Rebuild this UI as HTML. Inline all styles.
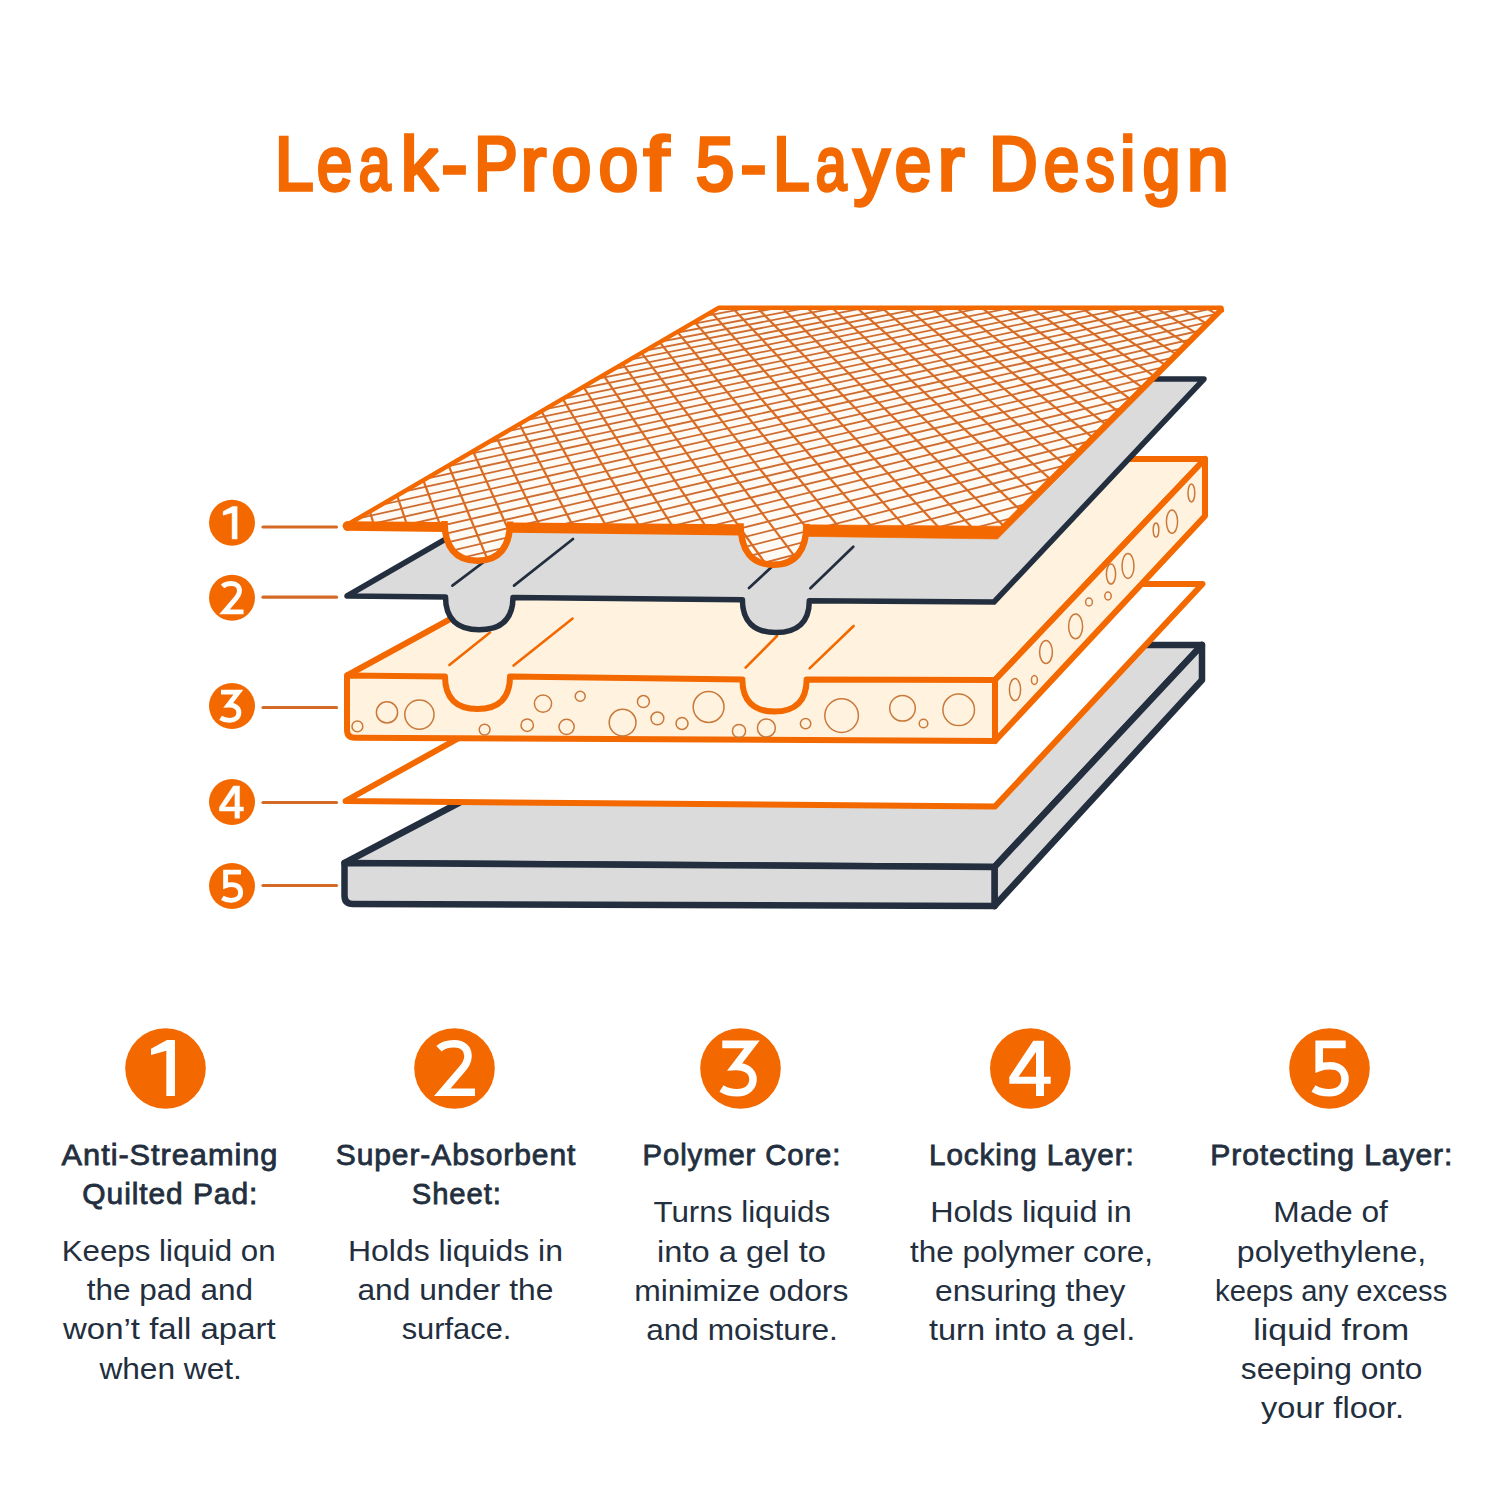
<!DOCTYPE html>
<html><head><meta charset="utf-8">
<style>
html,body{margin:0;padding:0;background:#fff;}
body{width:1500px;height:1500px;position:relative;overflow:hidden;}
svg{position:absolute;left:0;top:0;font-family:"Liberation Sans",sans-serif;}
</style></head><body>
<svg width="1500" height="1500" viewBox="0 0 1500 1500">
<g stroke="#232F3E" stroke-width="6.5" stroke-linejoin="round" fill="#DBDBDC">
<polygon points="344.5,863 759,645 1202,645 994.5,867"/>
<polygon points="994.5,867 1202,645 1202,680 994.5,906"/>
<path d="M344.5,863 L994.5,867 L994.5,906 L353,904 Q344.5,904 344.5,895.5 Z"/>
</g>
<polygon points="345.5,801 736,584 1202.5,584 995,806.5" fill="#FFFFFF" stroke="#F36900" stroke-width="6" stroke-linejoin="round"/>
<g stroke="#F36900" stroke-width="6" stroke-linejoin="round" fill="#FFF3E0">
<polygon points="347,675.5 743,459 1205,459 995,680" stroke="none"/>
<polyline points="347,675.5 743,459 1205,459 995,680" fill="none"/>
<polygon points="995,680 1205,459 1205,516 995,741"/>
<path d="M445,673 L445,676.5 C445,698 456.1,709 477.5,709 C498.9,709 510,698 510,676.5  L510,673 Z M742.4,676 L742.4,679.5 C742.4,701.3 753.3,712.6 774.5,712.6 C795.7,712.6 806.6,701.3 806.6,679.5  L806.6,676 Z" fill="#FFF3E0" stroke="none"/>
<path d="M347,675.5 L445,676.5 C445,698 456.1,709 477.5,709 C498.9,709 510,698 510,676.5 L742.4,679.5 C742.4,700.7 753.3,711.6 774.5,711.6 C795.7,711.6 806.6,700.7 806.6,679.5 L995,680 L995,741 L355,737.8 Q347,737.8 347,729.8 Z"/>
</g>
<g stroke="#F36900" stroke-width="2.6" stroke-linecap="round">
<line x1="449.4" y1="665" x2="490" y2="632.5"/>
<line x1="513.6" y1="665.6" x2="572.6" y2="618.6"/>
<line x1="745.6" y1="667.6" x2="777" y2="636"/>
<line x1="809.6" y1="668.4" x2="853.6" y2="626"/>
</g>
<g stroke="#C9793A" stroke-width="1.5" fill="none">
<circle cx="357.4" cy="726.4" r="5.4"/>
<circle cx="387" cy="712.4" r="10.6"/>
<circle cx="419.4" cy="714.6" r="14.6"/>
<circle cx="484.6" cy="729.6" r="5.4"/>
<circle cx="527.2" cy="725.2" r="6.2"/>
<circle cx="543" cy="703.6" r="8.6"/>
<circle cx="566.6" cy="726.8" r="7.6"/>
<circle cx="580.2" cy="696.2" r="5"/>
<circle cx="622.6" cy="722.6" r="13.4"/>
<circle cx="643.4" cy="701.6" r="6"/>
<circle cx="657.4" cy="718.4" r="6.4"/>
<circle cx="682" cy="723.4" r="6"/>
<circle cx="708.6" cy="707" r="15.4"/>
<circle cx="739" cy="731" r="6.6"/>
<circle cx="766.4" cy="728" r="9"/>
<circle cx="805.6" cy="723.6" r="5.2"/>
<circle cx="841.6" cy="715.6" r="16.8"/>
<circle cx="902.5" cy="708.3" r="12.8"/>
<circle cx="923.5" cy="723.5" r="4.3"/>
<circle cx="958.7" cy="709.8" r="15.8"/>
<ellipse cx="1191.4" cy="493" rx="3.4" ry="9"/>
<ellipse cx="1172" cy="521.6" rx="5.6" ry="11.6"/>
<ellipse cx="1156" cy="530" rx="2.8" ry="7"/>
<ellipse cx="1128" cy="566" rx="6" ry="12.4"/>
<ellipse cx="1111" cy="574" rx="4.6" ry="10"/>
<ellipse cx="1108" cy="596" rx="3.2" ry="4"/>
<ellipse cx="1089" cy="602" rx="3.4" ry="4"/>
<ellipse cx="1075.6" cy="626.4" rx="7" ry="12.4"/>
<ellipse cx="1046" cy="652" rx="6.4" ry="11.6"/>
<ellipse cx="1034.4" cy="680" rx="3" ry="4.4"/>
<ellipse cx="1015" cy="689.6" rx="5.6" ry="11"/>
</g>
<path d="M347,596 L723,379 L1204,379 L994,602 L809.3,600.7 C809.3,621.8 797.9,632.6 775.8,632.6 C753.8,632.6 742.4,621.4 742.4,599.8 L513,597.5 C513,618.8 501.5,629.8 479.2,629.8 C457,629.8 445.5,618.6 445.5,597 Z" fill="#DBDBDC" stroke="#232F3E" stroke-width="5.5" stroke-linejoin="round"/>
<g stroke="#232F3E" stroke-width="2.7" stroke-linecap="round">
<line x1="452.4" y1="585.6" x2="497" y2="552"/>
<line x1="514" y1="585.6" x2="573" y2="539"/>
<line x1="749" y1="588" x2="790" y2="550"/>
<line x1="810.4" y1="588.3" x2="853.3" y2="546.7"/>
</g>
<defs><clipPath id="c1">
<path d="M344,526 L718.5,307.5 L1220,307.5 L997,538 L344,526 Z"/>
<path d="M444.5,521.1 C444.5,547.3 455.7,560.8 477.3,560.8 C498.9,560.8 510.1,547.5 510.1,521.6  Z"/>
<path d="M740.5,523.3 C740.5,550.7 751.7,564.8 773.5,564.8 C795.3,564.8 806.5,550.9 806.5,523.8  Z"/>
</clipPath></defs>
<path d="M344,526 L718.5,307.5 L1220,307.5 L997,538 L344,526 Z" fill="#FFFAF3"/>
<path d="M444.5,521.1 C444.5,547.3 455.7,560.8 477.3,560.8 C498.9,560.8 510.1,547.5 510.1,521.6  Z" fill="#FFFAF3"/>
<path d="M740.5,523.3 C740.5,550.7 751.7,564.8 773.5,564.8 C795.3,564.8 806.5,550.9 806.5,523.8  Z" fill="#FFFAF3"/>
<g clip-path="url(#c1)">
<line x1="338" y1="514.1" x2="353.3" y2="572" stroke="#DE6A1E" stroke-width="2.2"/>
<line x1="338" y1="405.6" x2="388.1" y2="572" stroke="#DE6A1E" stroke-width="2.2"/>
<line x1="338" y1="321.2" x2="423" y2="572" stroke="#DE6A1E" stroke-width="2.2"/>
<line x1="356.2" y1="302" x2="457.8" y2="572" stroke="#DE6A1E" stroke-width="2.2"/>
<line x1="380.9" y1="302" x2="492.7" y2="572" stroke="#DE6A1E" stroke-width="2.2"/>
<line x1="405.6" y1="302" x2="527.5" y2="572" stroke="#DE6A1E" stroke-width="2.2"/>
<line x1="430.3" y1="302" x2="562.4" y2="572" stroke="#DE6A1E" stroke-width="2.2"/>
<line x1="455.1" y1="302" x2="597.3" y2="572" stroke="#DE6A1E" stroke-width="2.2"/>
<line x1="479.8" y1="302" x2="632.1" y2="572" stroke="#DE6A1E" stroke-width="2.2"/>
<line x1="504.5" y1="302" x2="667" y2="572" stroke="#DE6A1E" stroke-width="2.2"/>
<line x1="529.2" y1="302" x2="701.8" y2="572" stroke="#DE6A1E" stroke-width="2.2"/>
<line x1="553.9" y1="302" x2="736.7" y2="572" stroke="#DE6A1E" stroke-width="2.2"/>
<line x1="578.6" y1="302" x2="771.5" y2="572" stroke="#DE6A1E" stroke-width="2.2"/>
<line x1="603.3" y1="302" x2="806.4" y2="572" stroke="#DE6A1E" stroke-width="2.2"/>
<line x1="628" y1="302" x2="841.3" y2="572" stroke="#DE6A1E" stroke-width="2.2"/>
<line x1="652.7" y1="302" x2="876.1" y2="572" stroke="#DE6A1E" stroke-width="2.2"/>
<line x1="677.4" y1="302" x2="911" y2="572" stroke="#DE6A1E" stroke-width="2.2"/>
<line x1="702.1" y1="302" x2="945.8" y2="572" stroke="#DE6A1E" stroke-width="2.2"/>
<line x1="726.9" y1="302" x2="980.7" y2="572" stroke="#DE6A1E" stroke-width="2.2"/>
<line x1="751.6" y1="302" x2="1015.6" y2="572" stroke="#DE6A1E" stroke-width="2.2"/>
<line x1="776.3" y1="302" x2="1050.4" y2="572" stroke="#DE6A1E" stroke-width="2.2"/>
<line x1="801" y1="302" x2="1085.3" y2="572" stroke="#DE6A1E" stroke-width="2.2"/>
<line x1="825.7" y1="302" x2="1120.1" y2="572" stroke="#DE6A1E" stroke-width="2.2"/>
<line x1="850.4" y1="302" x2="1155" y2="572" stroke="#DE6A1E" stroke-width="2.2"/>
<line x1="875.1" y1="302" x2="1189.8" y2="572" stroke="#DE6A1E" stroke-width="2.2"/>
<line x1="899.8" y1="302" x2="1224.7" y2="572" stroke="#DE6A1E" stroke-width="2.2"/>
<line x1="924.5" y1="302" x2="1228" y2="546.6" stroke="#DE6A1E" stroke-width="2.2"/>
<line x1="949.2" y1="302" x2="1228" y2="520" stroke="#DE6A1E" stroke-width="2.2"/>
<line x1="974" y1="302" x2="1228" y2="495" stroke="#DE6A1E" stroke-width="2.2"/>
<line x1="998.7" y1="302" x2="1228" y2="471.4" stroke="#DE6A1E" stroke-width="2.2"/>
<line x1="1023.4" y1="302" x2="1228" y2="449.1" stroke="#DE6A1E" stroke-width="2.2"/>
<line x1="1048.1" y1="302" x2="1228" y2="427.9" stroke="#DE6A1E" stroke-width="2.2"/>
<line x1="1072.8" y1="302" x2="1228" y2="407.8" stroke="#DE6A1E" stroke-width="2.2"/>
<line x1="1097.5" y1="302" x2="1228" y2="388.8" stroke="#DE6A1E" stroke-width="2.2"/>
<line x1="1122.2" y1="302" x2="1228" y2="370.6" stroke="#DE6A1E" stroke-width="2.2"/>
<line x1="1146.9" y1="302" x2="1228" y2="353.3" stroke="#DE6A1E" stroke-width="2.2"/>
<line x1="1171.6" y1="302" x2="1228" y2="336.9" stroke="#DE6A1E" stroke-width="2.2"/>
<line x1="1196.3" y1="302" x2="1228" y2="321.1" stroke="#DE6A1E" stroke-width="2.2"/>
<line x1="1221" y1="302" x2="1228" y2="306.1" stroke="#DE6A1E" stroke-width="2.2"/>
<line x1="338" y1="303.3" x2="345.8" y2="302" stroke="#CF6C30" stroke-width="1.8"/>
<line x1="338" y1="308.2" x2="374.7" y2="302" stroke="#CF6C30" stroke-width="1.8"/>
<line x1="338" y1="313.1" x2="403.6" y2="302" stroke="#CF6C30" stroke-width="1.8"/>
<line x1="338" y1="318.2" x2="432.5" y2="302" stroke="#CF6C30" stroke-width="1.8"/>
<line x1="338" y1="323.3" x2="461.4" y2="302" stroke="#CF6C30" stroke-width="1.8"/>
<line x1="338" y1="328.5" x2="490.3" y2="302" stroke="#CF6C30" stroke-width="1.8"/>
<line x1="338" y1="333.7" x2="519.2" y2="302" stroke="#CF6C30" stroke-width="1.8"/>
<line x1="338" y1="339.1" x2="548.1" y2="302" stroke="#CF6C30" stroke-width="1.8"/>
<line x1="338" y1="344.5" x2="577.1" y2="302" stroke="#CF6C30" stroke-width="1.8"/>
<line x1="338" y1="350" x2="606" y2="302" stroke="#CF6C30" stroke-width="1.8"/>
<line x1="338" y1="355.7" x2="634.9" y2="302" stroke="#CF6C30" stroke-width="1.8"/>
<line x1="338" y1="361.3" x2="663.8" y2="302" stroke="#CF6C30" stroke-width="1.8"/>
<line x1="338" y1="367.1" x2="692.7" y2="302" stroke="#CF6C30" stroke-width="1.8"/>
<line x1="338" y1="373" x2="721.6" y2="302" stroke="#CF6C30" stroke-width="1.8"/>
<line x1="338" y1="379" x2="750.5" y2="302" stroke="#CF6C30" stroke-width="1.8"/>
<line x1="338" y1="385.1" x2="779.4" y2="302" stroke="#CF6C30" stroke-width="1.8"/>
<line x1="338" y1="391.2" x2="808.4" y2="302" stroke="#CF6C30" stroke-width="1.8"/>
<line x1="338" y1="397.5" x2="837.3" y2="302" stroke="#CF6C30" stroke-width="1.8"/>
<line x1="338" y1="403.9" x2="866.2" y2="302" stroke="#CF6C30" stroke-width="1.8"/>
<line x1="338" y1="410.4" x2="895.1" y2="302" stroke="#CF6C30" stroke-width="1.8"/>
<line x1="338" y1="417" x2="924" y2="302" stroke="#CF6C30" stroke-width="1.8"/>
<line x1="338" y1="423.7" x2="952.9" y2="302" stroke="#CF6C30" stroke-width="1.8"/>
<line x1="338" y1="430.5" x2="981.8" y2="302" stroke="#CF6C30" stroke-width="1.8"/>
<line x1="338" y1="437.5" x2="1010.8" y2="302" stroke="#CF6C30" stroke-width="1.8"/>
<line x1="338" y1="444.6" x2="1039.7" y2="302" stroke="#CF6C30" stroke-width="1.8"/>
<line x1="338" y1="451.8" x2="1068.6" y2="302" stroke="#CF6C30" stroke-width="1.8"/>
<line x1="338" y1="459.1" x2="1097.5" y2="302" stroke="#CF6C30" stroke-width="1.8"/>
<line x1="338" y1="466.6" x2="1126.4" y2="302" stroke="#CF6C30" stroke-width="1.8"/>
<line x1="338" y1="474.2" x2="1155.3" y2="302" stroke="#CF6C30" stroke-width="1.8"/>
<line x1="338" y1="481.9" x2="1184.2" y2="302" stroke="#CF6C30" stroke-width="1.8"/>
<line x1="338" y1="489.8" x2="1213.1" y2="302" stroke="#CF6C30" stroke-width="1.8"/>
<line x1="338" y1="497.8" x2="1228" y2="305" stroke="#CF6C30" stroke-width="1.8"/>
<line x1="338" y1="506" x2="1228" y2="311.4" stroke="#CF6C30" stroke-width="1.8"/>
<line x1="338" y1="514.4" x2="1228" y2="317.9" stroke="#CF6C30" stroke-width="1.8"/>
<line x1="338" y1="522.9" x2="1228" y2="324.5" stroke="#CF6C30" stroke-width="1.8"/>
<line x1="338" y1="531.6" x2="1228" y2="331.2" stroke="#CF6C30" stroke-width="1.8"/>
<line x1="338" y1="540.4" x2="1228" y2="338.1" stroke="#CF6C30" stroke-width="1.8"/>
<line x1="338" y1="549.5" x2="1228" y2="345.1" stroke="#CF6C30" stroke-width="1.8"/>
<line x1="338" y1="558.7" x2="1228" y2="352.2" stroke="#CF6C30" stroke-width="1.8"/>
<line x1="338" y1="568.1" x2="1228" y2="359.5" stroke="#CF6C30" stroke-width="1.8"/>
<line x1="362" y1="572" x2="1228" y2="366.9" stroke="#CF6C30" stroke-width="1.8"/>
<line x1="402.7" y1="572" x2="1228" y2="374.5" stroke="#CF6C30" stroke-width="1.8"/>
<line x1="443.4" y1="572" x2="1228" y2="382.3" stroke="#CF6C30" stroke-width="1.8"/>
<line x1="484.1" y1="572" x2="1228" y2="390.2" stroke="#CF6C30" stroke-width="1.8"/>
<line x1="524.9" y1="572" x2="1228" y2="398.3" stroke="#CF6C30" stroke-width="1.8"/>
<line x1="565.6" y1="572" x2="1228" y2="406.6" stroke="#CF6C30" stroke-width="1.8"/>
<line x1="606.3" y1="572" x2="1228" y2="415" stroke="#CF6C30" stroke-width="1.8"/>
<line x1="647" y1="572" x2="1228" y2="423.7" stroke="#CF6C30" stroke-width="1.8"/>
<line x1="687.7" y1="572" x2="1228" y2="432.5" stroke="#CF6C30" stroke-width="1.8"/>
<line x1="728.4" y1="572" x2="1228" y2="441.6" stroke="#CF6C30" stroke-width="1.8"/>
<line x1="769.1" y1="572" x2="1228" y2="450.8" stroke="#CF6C30" stroke-width="1.8"/>
<line x1="809.8" y1="572" x2="1228" y2="460.3" stroke="#CF6C30" stroke-width="1.8"/>
<line x1="850.5" y1="572" x2="1228" y2="469.9" stroke="#CF6C30" stroke-width="1.8"/>
<line x1="891.2" y1="572" x2="1228" y2="479.9" stroke="#CF6C30" stroke-width="1.8"/>
<line x1="931.9" y1="572" x2="1228" y2="490" stroke="#CF6C30" stroke-width="1.8"/>
<line x1="972.6" y1="572" x2="1228" y2="500.4" stroke="#CF6C30" stroke-width="1.8"/>
<line x1="1013.3" y1="572" x2="1228" y2="511.1" stroke="#CF6C30" stroke-width="1.8"/>
<line x1="1054" y1="572" x2="1228" y2="522" stroke="#CF6C30" stroke-width="1.8"/>
<line x1="1094.7" y1="572" x2="1228" y2="533.2" stroke="#CF6C30" stroke-width="1.8"/>
<line x1="1135.4" y1="572" x2="1228" y2="544.7" stroke="#CF6C30" stroke-width="1.8"/>
<line x1="1176.1" y1="572" x2="1228" y2="556.5" stroke="#CF6C30" stroke-width="1.8"/>
<line x1="1216.8" y1="572" x2="1228" y2="568.6" stroke="#CF6C30" stroke-width="1.8"/>
</g>
<polygon points="346,521.3 444.5,522.1 444.5,531.9 346,530.7" fill="#F36900"/>
<polygon points="510.1,522.6 740.5,524.3 740.5,535.6 510.1,532.8" fill="#F36900"/>
<circle cx="347.5" cy="526" r="4.8" fill="#F36900"/>
<path d="M444.5,521.1 C444.5,547.3 455.7,560.8 477.3,560.8 C498.9,560.8 510.1,547.5 510.1,521.6 " fill="none" stroke="#F36900" stroke-width="6.5"/>
<path d="M740.5,523.3 C740.5,550.7 751.7,564.8 773.5,564.8 C795.3,564.8 806.5,550.9 806.5,523.8 " fill="none" stroke="#F36900" stroke-width="6.5"/>
<polygon points="806.5,524.8 1000.5,526.2 1218,309.2 1222.5,310 1221.2,313.5 997.5,539 806.5,536.4" fill="#F36900" stroke="#F36900" stroke-width="0.6" stroke-linejoin="round"/>
<polyline points="345,526 718.5,307.8 1221.5,307.8 1222,310.5" fill="none" stroke="#F36900" stroke-width="4.4" stroke-linejoin="round" stroke-linecap="round"/>
<line x1="263" y1="527" x2="336.5" y2="527" stroke="#D56A26" stroke-width="3.2" stroke-linecap="round"/>
<circle cx="232" cy="522.8" r="23" fill="#F36900"/>
<path transform="translate(231.6,523.0) scale(0.582)" d="M-14.5,-19.8 L1.5,-28.5 L9.5,-28.5 L9.5,27.5 L0.83,27.5 L0.83,-17.8 L-14.5,-13.5 Z" fill="#fff" fill-rule="evenodd" stroke="#fff" stroke-width="0.8" stroke-linejoin="miter"/>
<line x1="263" y1="597.2" x2="336.5" y2="597.2" stroke="#D56A26" stroke-width="3.2" stroke-linecap="round"/>
<circle cx="232" cy="597.8" r="23" fill="#F36900"/>
<path transform="translate(231.6,598.0) scale(0.582)" d="M-15.5,-19.8 C-10.8,-24.5 -5.5,-24.8 -0.5,-24.8 C8.5,-24.8 13.5,-19.8 13.5,-12.5 C13.5,-5.8 9.8,-1.8 5.8,2.8 L-12.2,23.8 L20.5,23.8" fill="none" stroke="#fff" stroke-width="8.4" stroke-linejoin="miter" stroke-miterlimit="3"/>
<line x1="263" y1="707.5" x2="336.5" y2="707.5" stroke="#D56A26" stroke-width="3.2" stroke-linecap="round"/>
<circle cx="232" cy="706" r="23" fill="#F36900"/>
<path transform="translate(231.6,706.2) scale(0.582)" d="M-18.2,-24.1 L11.5,-24.1 L-5.5,-2 C5.5,-2.5 12.5,3 12.5,10.8 C12.5,19 6,24.3 -3.5,24.3 C-10,24.3 -15,22.5 -19,20" fill="none" stroke="#fff" stroke-width="8.4" stroke-linejoin="miter" stroke-miterlimit="3"/>
<line x1="263" y1="802.5" x2="336.5" y2="802.5" stroke="#D56A26" stroke-width="3.2" stroke-linecap="round"/>
<circle cx="232" cy="802" r="23" fill="#F36900"/>
<path transform="translate(231.6,802.2) scale(0.582)" d="M3,-27.8 L13.7,-27.8 L13.7,8.2 L20.4,8.2 L20.4,15.2 L13.7,15.2 L13.7,27.5 L5.7,27.5 L5.7,15.2 L-21,15.2 L-21,8.5 Z M5.7,-16.5 L5.7,8.2 L-11.8,8.2 Z" fill="#fff" fill-rule="evenodd" stroke="#fff" stroke-width="0.8" stroke-linejoin="miter"/>
<line x1="263" y1="885.5" x2="336.5" y2="885.5" stroke="#D56A26" stroke-width="3.2" stroke-linecap="round"/>
<circle cx="232" cy="886" r="23" fill="#F36900"/>
<path transform="translate(231.6,886.2) scale(0.582)" d="M16.2,-24.1 L-10.3,-24.1 L-10.3,-1 C-6.5,-2.5 -3,-2.7 0.5,-2.7 C10,-2.7 15.5,3 15.5,10.8 C15.5,19 9,24.3 -0.5,24.3 C-7,24.3 -12,22.5 -16,20" fill="none" stroke="#fff" stroke-width="8.4" stroke-linejoin="miter" stroke-miterlimit="3"/>
<text transform="matrix(0.9277 0 0 1 274.78 0)" x="0" y="190.3" font-size="75.41" fill="#F36900" stroke="#F36900" stroke-width="3.4" stroke-linejoin="miter" stroke-miterlimit="2">L</text>
<text transform="matrix(0.8483 0 0 1 316.69 0)" x="0" y="190.3" font-size="75.41" fill="#F36900" stroke="#F36900" stroke-width="3.4" stroke-linejoin="miter" stroke-miterlimit="2">e</text>
<text transform="matrix(0.7592 0 0 1 358.82 0)" x="0" y="190.3" font-size="75.41" fill="#F36900" stroke="#F36900" stroke-width="3.4" stroke-linejoin="miter" stroke-miterlimit="2">a</text>
<text transform="matrix(0.9959 0 0 1 400.71 0)" x="0" y="190.3" font-size="75.41" fill="#F36900" stroke="#F36900" stroke-width="3.4" stroke-linejoin="miter" stroke-miterlimit="2">k</text>
<text transform="matrix(1.0502 0 0 1 441.37 0)" x="0" y="190.3" font-size="75.41" fill="#F36900" stroke="#F36900" stroke-width="3.4" stroke-linejoin="miter" stroke-miterlimit="2">-</text>
<text transform="matrix(0.8706 0 0 1 474.04 0)" x="0" y="190.3" font-size="75.41" fill="#F36900" stroke="#F36900" stroke-width="3.4" stroke-linejoin="miter" stroke-miterlimit="2">P</text>
<text transform="matrix(1.0268 0 0 1 520.61 0)" x="0" y="190.3" font-size="75.41" fill="#F36900" stroke="#F36900" stroke-width="3.4" stroke-linejoin="miter" stroke-miterlimit="2">r</text>
<text transform="matrix(0.9512 0 0 1 551.53 0)" x="0" y="190.3" font-size="75.41" fill="#F36900" stroke="#F36900" stroke-width="3.4" stroke-linejoin="miter" stroke-miterlimit="2">o</text>
<text transform="matrix(0.9512 0 0 1 598.53 0)" x="0" y="190.3" font-size="75.41" fill="#F36900" stroke="#F36900" stroke-width="3.4" stroke-linejoin="miter" stroke-miterlimit="2">o</text>
<text transform="matrix(1.1966 0 0 1 643.84 0)" x="0" y="190.3" font-size="75.41" fill="#F36900" stroke="#F36900" stroke-width="3.4" stroke-linejoin="miter" stroke-miterlimit="2">f</text>
<text transform="matrix(0.9195 0 0 1 695.80 0)" x="0" y="190.3" font-size="75.41" fill="#F36900" stroke="#F36900" stroke-width="3.4" stroke-linejoin="miter" stroke-miterlimit="2">5</text>
<text transform="matrix(1.0502 0 0 1 740.37 0)" x="0" y="190.3" font-size="75.41" fill="#F36900" stroke="#F36900" stroke-width="3.4" stroke-linejoin="miter" stroke-miterlimit="2">-</text>
<text transform="matrix(0.8731 0 0 1 773.03 0)" x="0" y="190.3" font-size="75.41" fill="#F36900" stroke="#F36900" stroke-width="3.4" stroke-linejoin="miter" stroke-miterlimit="2">L</text>
<text transform="matrix(0.7355 0 0 1 815.86 0)" x="0" y="190.3" font-size="75.41" fill="#F36900" stroke="#F36900" stroke-width="3.4" stroke-linejoin="miter" stroke-miterlimit="2">a</text>
<text transform="matrix(0.9594 0 0 1 853.39 0)" x="0" y="190.3" font-size="75.41" fill="#F36900" stroke="#F36900" stroke-width="3.4" stroke-linejoin="miter" stroke-miterlimit="2">y</text>
<text transform="matrix(0.8740 0 0 1 894.65 0)" x="0" y="190.3" font-size="75.41" fill="#F36900" stroke="#F36900" stroke-width="3.4" stroke-linejoin="miter" stroke-miterlimit="2">e</text>
<text transform="matrix(1.0714 0 0 1 937.46 0)" x="0" y="190.3" font-size="75.41" fill="#F36900" stroke="#F36900" stroke-width="3.4" stroke-linejoin="miter" stroke-miterlimit="2">r</text>
<text transform="matrix(0.8930 0 0 1 988.94 0)" x="0" y="190.3" font-size="75.41" fill="#F36900" stroke="#F36900" stroke-width="3.4" stroke-linejoin="miter" stroke-miterlimit="2">D</text>
<text transform="matrix(0.8483 0 0 1 1043.69 0)" x="0" y="190.3" font-size="75.41" fill="#F36900" stroke="#F36900" stroke-width="3.4" stroke-linejoin="miter" stroke-miterlimit="2">e</text>
<text transform="matrix(0.7746 0 0 1 1085.57 0)" x="0" y="190.3" font-size="75.41" fill="#F36900" stroke="#F36900" stroke-width="3.4" stroke-linejoin="miter" stroke-miterlimit="2">s</text>
<text transform="matrix(0.9261 0 0 1 1119.94 0)" x="0" y="190.3" font-size="75.41" fill="#F36900" stroke="#F36900" stroke-width="3.4" stroke-linejoin="miter" stroke-miterlimit="2">i</text>
<text transform="matrix(0.9091 0 0 1 1142.59 0)" x="0" y="190.3" font-size="75.41" fill="#F36900" stroke="#F36900" stroke-width="3.4" stroke-linejoin="miter" stroke-miterlimit="2">g</text>
<text transform="matrix(1.0056 0 0 1 1186.68 0)" x="0" y="190.3" font-size="75.41" fill="#F36900" stroke="#F36900" stroke-width="3.4" stroke-linejoin="miter" stroke-miterlimit="2">n</text>
<circle cx="165.5" cy="1068.5" r="40.3" fill="#F36900"/>
<path transform="translate(165.5,1068.5) scale(1.0)" d="M-14.5,-19.8 L1.5,-28.5 L9.5,-28.5 L9.5,27.5 L0.83,27.5 L0.83,-17.8 L-14.5,-13.5 Z" fill="#fff" fill-rule="evenodd"/>
<text transform="matrix(1.0473 0 0 1 61.62 0)" x="0" y="1164.8" font-size="29.4" fill="#232F3E" stroke="#232F3E" stroke-width="0.8" stroke-linejoin="miter" stroke-miterlimit="2" letter-spacing="0.9">Anti-Streaming</text>
<text transform="matrix(1.0196 0 0 1 82.33 0)" x="0" y="1203.6" font-size="29.4" fill="#232F3E" stroke="#232F3E" stroke-width="0.8" stroke-linejoin="miter" stroke-miterlimit="2" letter-spacing="0.9">Quilted Pad:</text>
<text transform="matrix(1.0431 0 0 1 61.69 0)" x="0" y="1261.3" font-size="30" fill="#232F3E">Keeps liquid on</text>
<text transform="matrix(1.0500 0 0 1 86.67 0)" x="0" y="1300.4" font-size="30" fill="#232F3E">the pad and</text>
<text transform="matrix(1.0996 0 0 1 63.00 0)" x="0" y="1339.5" font-size="30" fill="#232F3E">won’t fall apart</text>
<text transform="matrix(1.0556 0 0 1 99.40 0)" x="0" y="1378.6" font-size="30" fill="#232F3E">when wet.</text>
<circle cx="454.5" cy="1068.5" r="40.3" fill="#F36900"/>
<path transform="translate(454.5,1068.5) scale(1.0)" d="M-15.5,-19.8 C-10.8,-24.5 -5.5,-24.8 -0.5,-24.8 C8.5,-24.8 13.5,-19.8 13.5,-12.5 C13.5,-5.8 9.8,-1.8 5.8,2.8 L-12.2,23.8 L20.5,23.8" fill="none" stroke="#fff" stroke-width="7.6" stroke-linejoin="miter" stroke-miterlimit="3"/>
<text transform="matrix(1.0207 0 0 1 335.73 0)" x="0" y="1164.8" font-size="29.4" fill="#232F3E" stroke="#232F3E" stroke-width="0.8" stroke-linejoin="miter" stroke-miterlimit="2" letter-spacing="0.9">Super-Absorbent</text>
<text transform="matrix(0.9942 0 0 1 411.85 0)" x="0" y="1203.6" font-size="29.4" fill="#232F3E" stroke="#232F3E" stroke-width="0.8" stroke-linejoin="miter" stroke-miterlimit="2" letter-spacing="0.9">Sheet:</text>
<text transform="matrix(1.0657 0 0 1 347.94 0)" x="0" y="1261.3" font-size="30" fill="#232F3E">Holds liquids in</text>
<text transform="matrix(1.0588 0 0 1 357.38 0)" x="0" y="1300.4" font-size="30" fill="#232F3E">and under the</text>
<text transform="matrix(1.0286 0 0 1 401.63 0)" x="0" y="1339.5" font-size="30" fill="#232F3E">surface.</text>
<circle cx="740.5" cy="1068.5" r="40.3" fill="#F36900"/>
<path transform="translate(740.5,1068.5) scale(1.0)" d="M-18.2,-24.1 L11.5,-24.1 L-5.5,-2 C5.5,-2.5 12.5,3 12.5,10.8 C12.5,19 6,24.3 -3.5,24.3 C-10,24.3 -15,22.5 -19,20" fill="none" stroke="#fff" stroke-width="7.6" stroke-linejoin="miter" stroke-miterlimit="3"/>
<text transform="matrix(0.9961 0 0 1 642.61 0)" x="0" y="1164.8" font-size="29.4" fill="#232F3E" stroke="#232F3E" stroke-width="0.8" stroke-linejoin="miter" stroke-miterlimit="2" letter-spacing="0.9">Polymer Core:</text>
<text transform="matrix(1.0463 0 0 1 653.42 0)" x="0" y="1222.5" font-size="30" fill="#232F3E">Turns liquids</text>
<text transform="matrix(1.0888 0 0 1 657.02 0)" x="0" y="1261.6" font-size="30" fill="#232F3E">into a gel to</text>
<text transform="matrix(1.0626 0 0 1 634.17 0)" x="0" y="1300.7" font-size="30" fill="#232F3E">minimize odors</text>
<text transform="matrix(1.0549 0 0 1 646.18 0)" x="0" y="1339.8" font-size="30" fill="#232F3E">and moisture.</text>
<circle cx="1030.3" cy="1068.5" r="40.3" fill="#F36900"/>
<path transform="translate(1030.3,1068.5) scale(1.0)" d="M3,-27.8 L13.7,-27.8 L13.7,8.2 L20.4,8.2 L20.4,15.2 L13.7,15.2 L13.7,27.5 L5.7,27.5 L5.7,15.2 L-21,15.2 L-21,8.5 Z M5.7,-16.5 L5.7,8.2 L-11.8,8.2 Z" fill="#fff" fill-rule="evenodd"/>
<text transform="matrix(1.0086 0 0 1 929.08 0)" x="0" y="1164.8" font-size="29.4" fill="#232F3E" stroke="#232F3E" stroke-width="0.8" stroke-linejoin="miter" stroke-miterlimit="2" letter-spacing="0.9">Locking Layer:</text>
<text transform="matrix(1.0798 0 0 1 930.20 0)" x="0" y="1222.5" font-size="30" fill="#232F3E">Holds liquid in</text>
<text transform="matrix(1.0496 0 0 1 909.88 0)" x="0" y="1261.6" font-size="30" fill="#232F3E">the polymer core,</text>
<text transform="matrix(1.0568 0 0 1 935.08 0)" x="0" y="1300.7" font-size="30" fill="#232F3E">ensuring they</text>
<text transform="matrix(1.0859 0 0 1 928.96 0)" x="0" y="1339.8" font-size="30" fill="#232F3E">turn into a gel.</text>
<circle cx="1329.5" cy="1068.5" r="40.3" fill="#F36900"/>
<path transform="translate(1329.5,1068.5) scale(1.0)" d="M16.2,-24.1 L-10.3,-24.1 L-10.3,-1 C-6.5,-2.5 -3,-2.7 0.5,-2.7 C10,-2.7 15.5,3 15.5,10.8 C15.5,19 9,24.3 -0.5,24.3 C-7,24.3 -12,22.5 -16,20" fill="none" stroke="#fff" stroke-width="7.6" stroke-linejoin="miter" stroke-miterlimit="3"/>
<text transform="matrix(1.0233 0 0 1 1210.25 0)" x="0" y="1164.8" font-size="29.4" fill="#232F3E" stroke="#232F3E" stroke-width="0.8" stroke-linejoin="miter" stroke-miterlimit="2" letter-spacing="0.9">Protecting Layer:</text>
<text transform="matrix(1.0566 0 0 1 1273.36 0)" x="0" y="1222.5" font-size="30" fill="#232F3E">Made of</text>
<text transform="matrix(1.0717 0 0 1 1236.86 0)" x="0" y="1261.6" font-size="30" fill="#232F3E">polyethylene,</text>
<text transform="matrix(0.9741 0 0 1 1215.05 0)" x="0" y="1300.7" font-size="30" fill="#232F3E">keeps any excess</text>
<text transform="matrix(1.1257 0 0 1 1253.35 0)" x="0" y="1339.8" font-size="30" fill="#232F3E">liquid from</text>
<text transform="matrix(1.0568 0 0 1 1240.81 0)" x="0" y="1378.9" font-size="30" fill="#232F3E">seeping onto</text>
<text transform="matrix(1.0853 0 0 1 1261.00 0)" x="0" y="1418.0" font-size="30" fill="#232F3E">your floor.</text>
</svg>
</body></html>
